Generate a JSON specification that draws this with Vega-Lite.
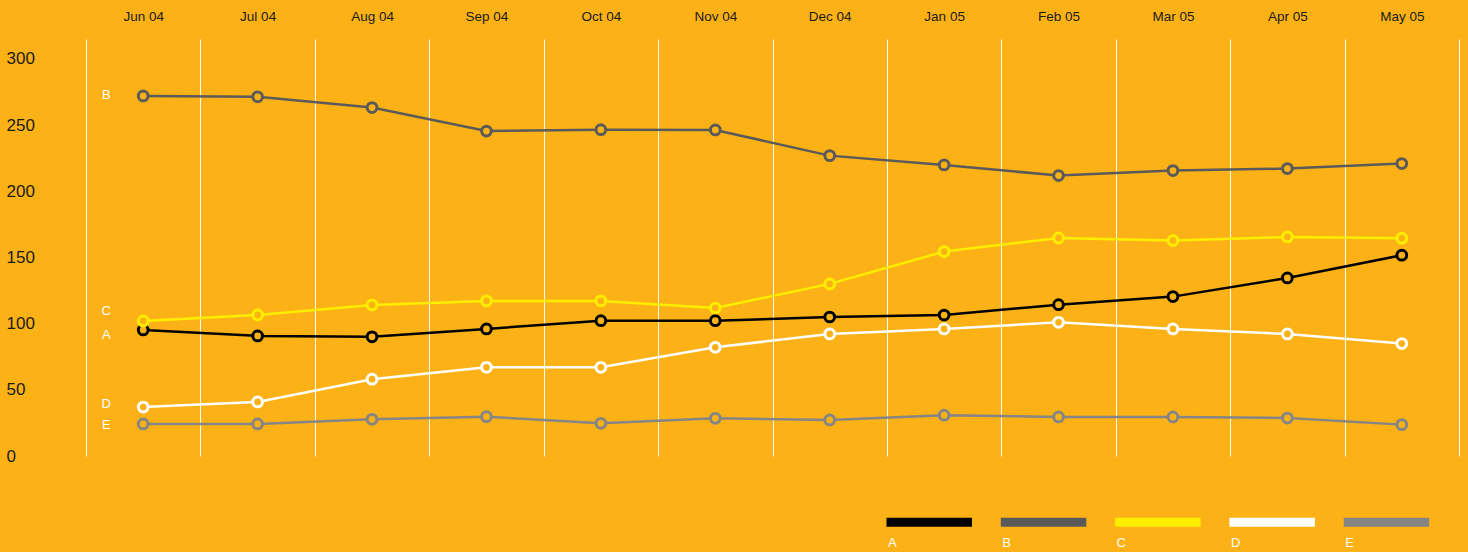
{
  "$schema": "https://vega.github.io/schema/vega-lite/v6.json",
  "width": 1373,
  "height": 417,
  "autosize": "none",
  "padding": {"left": 86, "top": 39, "right": 9, "bottom": 96},
  "background": "#FCB216",
  "config": {
    "view": {"stroke": null},
    "font": "Liberation Sans"
  },
  "data": {
    "values": [
      {"month": "Jun 04", "series": "A", "value": 95.2},
      {"month": "Jul 04", "series": "A", "value": 90.7},
      {"month": "Aug 04", "series": "A", "value": 90.0},
      {"month": "Sep 04", "series": "A", "value": 96.0},
      {"month": "Oct 04", "series": "A", "value": 102.2},
      {"month": "Nov 04", "series": "A", "value": 102.2},
      {"month": "Dec 04", "series": "A", "value": 105.0},
      {"month": "Jan 05", "series": "A", "value": 106.5},
      {"month": "Feb 05", "series": "A", "value": 114.3},
      {"month": "Mar 05", "series": "A", "value": 120.4},
      {"month": "Apr 05", "series": "A", "value": 134.5},
      {"month": "May 05", "series": "A", "value": 151.7},
      {"month": "Jun 04", "series": "B", "value": 272.0},
      {"month": "Jul 04", "series": "B", "value": 271.3},
      {"month": "Aug 04", "series": "B", "value": 263.2},
      {"month": "Sep 04", "series": "B", "value": 245.5},
      {"month": "Oct 04", "series": "B", "value": 246.5},
      {"month": "Nov 04", "series": "B", "value": 246.3},
      {"month": "Dec 04", "series": "B", "value": 226.9},
      {"month": "Jan 05", "series": "B", "value": 219.9},
      {"month": "Feb 05", "series": "B", "value": 211.8},
      {"month": "Mar 05", "series": "B", "value": 215.6},
      {"month": "Apr 05", "series": "B", "value": 217.1},
      {"month": "May 05", "series": "B", "value": 220.9},
      {"month": "Jun 04", "series": "C", "value": 102.0},
      {"month": "Jul 04", "series": "C", "value": 106.6},
      {"month": "Aug 04", "series": "C", "value": 114.1},
      {"month": "Sep 04", "series": "C", "value": 117.1},
      {"month": "Oct 04", "series": "C", "value": 117.1},
      {"month": "Nov 04", "series": "C", "value": 111.8},
      {"month": "Dec 04", "series": "C", "value": 130.0},
      {"month": "Jan 05", "series": "C", "value": 154.4},
      {"month": "Feb 05", "series": "C", "value": 164.7},
      {"month": "Mar 05", "series": "C", "value": 162.7},
      {"month": "Apr 05", "series": "C", "value": 165.5},
      {"month": "May 05", "series": "C", "value": 164.5},
      {"month": "Jun 04", "series": "D", "value": 37.0},
      {"month": "Jul 04", "series": "D", "value": 40.8},
      {"month": "Aug 04", "series": "D", "value": 58.0},
      {"month": "Sep 04", "series": "D", "value": 67.0},
      {"month": "Oct 04", "series": "D", "value": 67.0},
      {"month": "Nov 04", "series": "D", "value": 82.1},
      {"month": "Dec 04", "series": "D", "value": 92.2},
      {"month": "Jan 05", "series": "D", "value": 96.0},
      {"month": "Feb 05", "series": "D", "value": 101.0},
      {"month": "Mar 05", "series": "D", "value": 96.0},
      {"month": "Apr 05", "series": "D", "value": 92.2},
      {"month": "May 05", "series": "D", "value": 84.9},
      {"month": "Jun 04", "series": "E", "value": 24.2},
      {"month": "Jul 04", "series": "E", "value": 24.2},
      {"month": "Aug 04", "series": "E", "value": 27.7},
      {"month": "Sep 04", "series": "E", "value": 29.7},
      {"month": "Oct 04", "series": "E", "value": 24.7},
      {"month": "Nov 04", "series": "E", "value": 28.5},
      {"month": "Dec 04", "series": "E", "value": 27.2},
      {"month": "Jan 05", "series": "E", "value": 30.8},
      {"month": "Feb 05", "series": "E", "value": 29.5},
      {"month": "Mar 05", "series": "E", "value": 29.5},
      {"month": "Apr 05", "series": "E", "value": 28.7},
      {"month": "May 05", "series": "E", "value": 23.7}
    ]
  },
  "encoding": {
    "x": {
      "field": "month",
      "type": "ordinal",
      "sort": ["Jun 04", "Jul 04", "Aug 04", "Sep 04", "Oct 04", "Nov 04", "Dec 04", "Jan 05", "Feb 05", "Mar 05", "Apr 05", "May 05"],
      "scale": {"paddingInner": 0, "paddingOuter": 0},
      "axis": {
        "orient": "top",
        "title": null,
        "domain": false,
        "ticks": false,
        "labelAngle": 0,
        "labelFontSize": 13.5,
        "labelColor": "#1a1a1a",
        "labelBaseline": "middle",
        "labelPadding": 23,
        "grid": true,
        "gridColor": "#ffffff",
        "gridWidth": 1,
        "gridOpacity": 1,
        "tickBand": "extent"
      }
    },
    "y": {
      "field": "value",
      "type": "quantitative",
      "scale": {"domain": [0, 315], "nice": false},
      "axis": {
        "title": null,
        "domain": false,
        "ticks": false,
        "grid": false,
        "values": [0, 50, 100, 150, 200, 250, 300],
        "labelAlign": "left",
        "labelBaseline": "middle",
        "labelPadding": 80,
        "labelFontSize": 17,
        "labelColor": "#1a1a1a"
      }
    },
    "color": {
      "field": "series",
      "type": "nominal",
      "scale": {
        "domain": ["A", "B", "C", "D", "E"],
        "range": ["#000000", "#5a5a5a", "#fdee00", "#ffffff", "#858585"]
      },
      "legend": {
        "orient": "none",
        "legendX": 795,
        "legendY": 497,
        "direction": "horizontal",
        "title": null,
        "symbolType": "M-1,-20.5H84.5",
        "symbolSize": 4,
        "symbolStrokeWidth": 9,
        "symbolOpacity": 1,
        "labelFontSize": 13,
        "labelColor": "#ffffff",
        "labelOffset": -6,
        "labelBaseline": "middle",
        "columnPadding": -7.7,
        "gridAlign": "all"
      }
    }
  },
  "layer": [
    {
      "mark": {"type": "line", "strokeWidth": 2.5}
    },
    {
      "mark": {"type": "point", "filled": false, "fill": "#FCB216", "fillOpacity": 1, "opacity": 1, "size": 95, "strokeWidth": 3, "shape": "circle"}
    },
    {
      "transform": [{"filter": "datum.month === 'Jun 04' && datum.series === 'B'"}],
      "mark": {"type": "text", "dx": -37, "dy": -1, "fontSize": 13, "align": "center", "baseline": "middle"},
      "encoding": {"text": {"field": "series"}, "color": {"value": "#ffffff"}}
    },
    {
      "transform": [{"filter": "datum.month === 'Jun 04' && datum.series === 'C'"}],
      "mark": {"type": "text", "dx": -37, "dy": -9.5, "fontSize": 13, "align": "center", "baseline": "middle"},
      "encoding": {"text": {"field": "series"}, "color": {"value": "#ffffff"}}
    },
    {
      "transform": [{"filter": "datum.month === 'Jun 04' && datum.series === 'A'"}],
      "mark": {"type": "text", "dx": -37, "dy": 5, "fontSize": 13, "align": "center", "baseline": "middle"},
      "encoding": {"text": {"field": "series"}, "color": {"value": "#ffffff"}}
    },
    {
      "transform": [{"filter": "datum.month === 'Jun 04' && datum.series === 'D'"}],
      "mark": {"type": "text", "dx": -37, "dy": -3, "fontSize": 13, "align": "center", "baseline": "middle"},
      "encoding": {"text": {"field": "series"}, "color": {"value": "#ffffff"}}
    },
    {
      "transform": [{"filter": "datum.month === 'Jun 04' && datum.series === 'E'"}],
      "mark": {"type": "text", "dx": -37, "dy": 1, "fontSize": 13, "align": "center", "baseline": "middle"},
      "encoding": {"text": {"field": "series"}, "color": {"value": "#ffffff"}}
    }
  ]
}
